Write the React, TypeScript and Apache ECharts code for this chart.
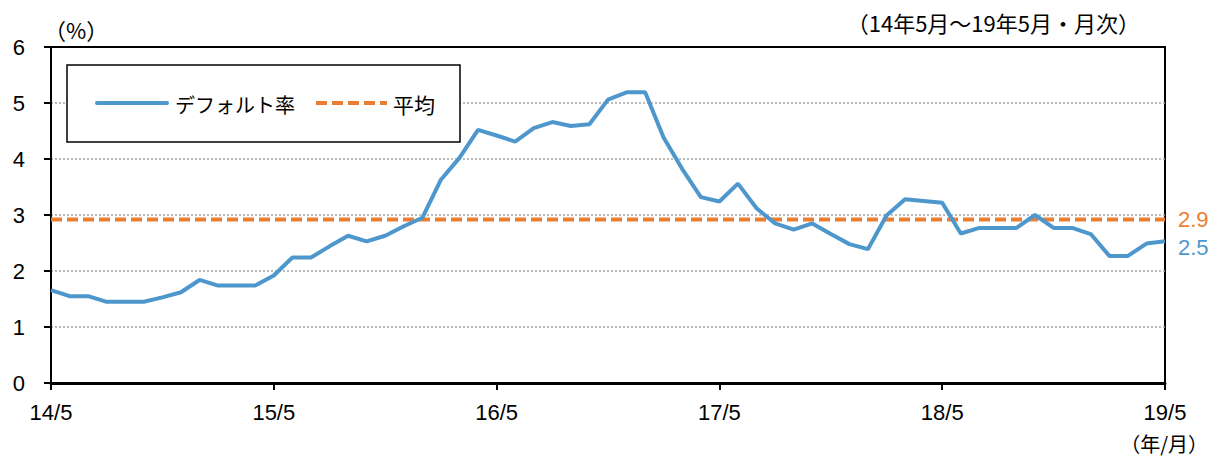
import React, { useEffect, useRef } from "react";
import * as echarts from "echarts";

// Months 14/5 .. 19/5 (category labels)
const monthLabels: string[] = (() => {
  const out: string[] = [];
  for (let i = 0; i <= 60; i++) {
    const m0 = 4 + i; // May 2014 = index 0
    const y = 14 + Math.floor(m0 / 12);
    const m = (m0 % 12) + 1;
    out.push(`${y}/${m}`);
  }
  return out;
})();

const defaultRate: number[] = [
  1.66, 1.55, 1.55, 1.45, 1.45, 1.45, 1.53, 1.62, 1.84, 1.74, 1.74, 1.74,
  1.92, 2.24, 2.24, 2.44, 2.63, 2.53, 2.63, 2.8, 2.95, 3.63, 4.02, 4.52,
  4.42, 4.31, 4.55, 4.66, 4.59, 4.62, 5.06, 5.19, 5.19, 4.38, 3.82, 3.32,
  3.24, 3.56, 3.12, 2.85, 2.74, 2.85, 2.66, 2.48, 2.39, 2.99, 3.28, 3.25,
  3.22, 2.67, 2.77, 2.77, 2.77, 3.0, 2.77, 2.77, 2.66, 2.27, 2.27, 2.49,
  2.53,
];

const averageRate = 2.92;

const seriesNames = ["デフォルト率", "平均"];
const yTicks = { min: 0, max: 6, interval: 1 };
const unitLabel = "（%）";
const periodLabel = "（14年5月～19年5月・月次）";
const xUnitLabel = "（年/月）";

const BLUE = "#4e97cc";
const ORANGE = "#ed7d31";
const JP = "'Noto Sans CJK JP', sans-serif";
const NUM = "'Liberation Sans', Arial, sans-serif";

export default function App() {
  const ref = useRef<HTMLDivElement>(null);
  useEffect(() => {
    if (!ref.current) return;
    const chart = echarts.init(ref.current, undefined, { renderer: "svg" });
    chart.setOption({
      animation: false,
      backgroundColor: "#fff",
      grid: {
        left: 51,
        right: 45,
        top: 47,
        bottom: 74,
        show: true,
        borderColor: "#000",
        borderWidth: 2,
        backgroundColor: "transparent",
      },
      xAxis: {
        type: "category",
        data: monthLabels,
        boundaryGap: false,
        axisLine: { lineStyle: { color: "#000", width: 3 } },
        axisTick: { interval: 11, length: 7, lineStyle: { color: "#000", width: 2 } },
        axisLabel: {
          interval: 11,
          fontSize: 22,
          fontFamily: NUM,
          color: "#000",
          margin: 18,
        },
        splitLine: { show: false },
      },
      yAxis: {
        type: "value",
        min: yTicks.min,
        max: yTicks.max,
        interval: yTicks.interval,
        axisLine: { show: true, lineStyle: { color: "#000", width: 2 } },
        axisTick: { show: true, length: 7, lineStyle: { color: "#000", width: 2 } },
        axisLabel: { fontSize: 22, fontFamily: NUM, color: "#000", margin: 26 },
        splitLine: {
          show: true,
          showMinLine: false,
          showMaxLine: false,
          lineStyle: { color: "#a6a6a6", width: 1.5, type: [2, 2] },
        },
      },
      graphic: [
        {
          type: "rect",
          z: 5,
          shape: { x: 67, y: 65, width: 393, height: 77 },
          style: { fill: "#fff", stroke: "#000", lineWidth: 1.5 },
        },
        {
          type: "line",
          z: 6,
          shape: { x1: 97, y1: 103, x2: 167, y2: 103 },
          style: { stroke: BLUE, lineWidth: 4, lineCap: "round" },
        },
        {
          type: "text",
          x: 175,
          y: 104,
          z: 6,
          style: {
            text: seriesNames[0],
            font: `20px ${JP}`,
            fill: "#000",
            verticalAlign: "middle",
            textAlign: "left",
          },
        },
        {
          type: "line",
          z: 6,
          shape: { x1: 316, y1: 103, x2: 387, y2: 103 },
          style: { stroke: ORANGE, lineWidth: 4, lineDash: [11, 5] },
        },
        {
          type: "text",
          x: 393,
          y: 104,
          z: 6,
          style: {
            text: seriesNames[1],
            font: `21px ${JP}`,
            fill: "#000",
            verticalAlign: "middle",
            textAlign: "left",
          },
        },
        {
          type: "text",
          x: 44,
          y: 29,
          z: 5,
          style: {
            text: unitLabel,
            font: `22px ${JP}`,
            fill: "#000",
            verticalAlign: "middle",
            textAlign: "left",
          },
        },
        {
          type: "text",
          x: 1140,
          y: 22,
          z: 5,
          style: {
            text: periodLabel,
            font: `22px ${JP}`,
            fill: "#000",
            verticalAlign: "middle",
            textAlign: "right",
          },
        },
        {
          type: "text",
          x: 1208,
          y: 443,
          z: 5,
          style: {
            text: xUnitLabel,
            font: `20px ${JP}`,
            fill: "#000",
            verticalAlign: "middle",
            textAlign: "right",
          },
        },
      ],
      series: [
        {
          name: seriesNames[0],
          type: "line",
          data: defaultRate,
          symbol: "none",
          z: 3,
          lineStyle: { color: BLUE, width: 4 },
          itemStyle: { color: BLUE },
          endLabel: {
            show: true,
            formatter: (p: any) => Number(p.value).toFixed(1),
            color: BLUE,
            fontSize: 22,
            fontFamily: NUM,
            distance: 13,
            offset: [0, 6],
          },
        },
        {
          name: seriesNames[1],
          type: "line",
          data: [
            [monthLabels[0], averageRate],
            [monthLabels[monthLabels.length - 1], averageRate],
          ],
          symbol: "none",
          z: 2,
          lineStyle: { color: ORANGE, width: 4, type: [11, 5] },
          itemStyle: { color: ORANGE },
          endLabel: {
            show: true,
            formatter: (p: any) => Number(p.value[1]).toFixed(1),
            color: ORANGE,
            fontSize: 22,
            fontFamily: NUM,
            distance: 13,
          },
        },
      ],
    });
    return () => chart.dispose();
  }, []);
  return (
    <div
      ref={ref}
      style={{ position: "fixed", left: 0, top: 0, width: 1210, height: 457 }}
    />
  );
}
